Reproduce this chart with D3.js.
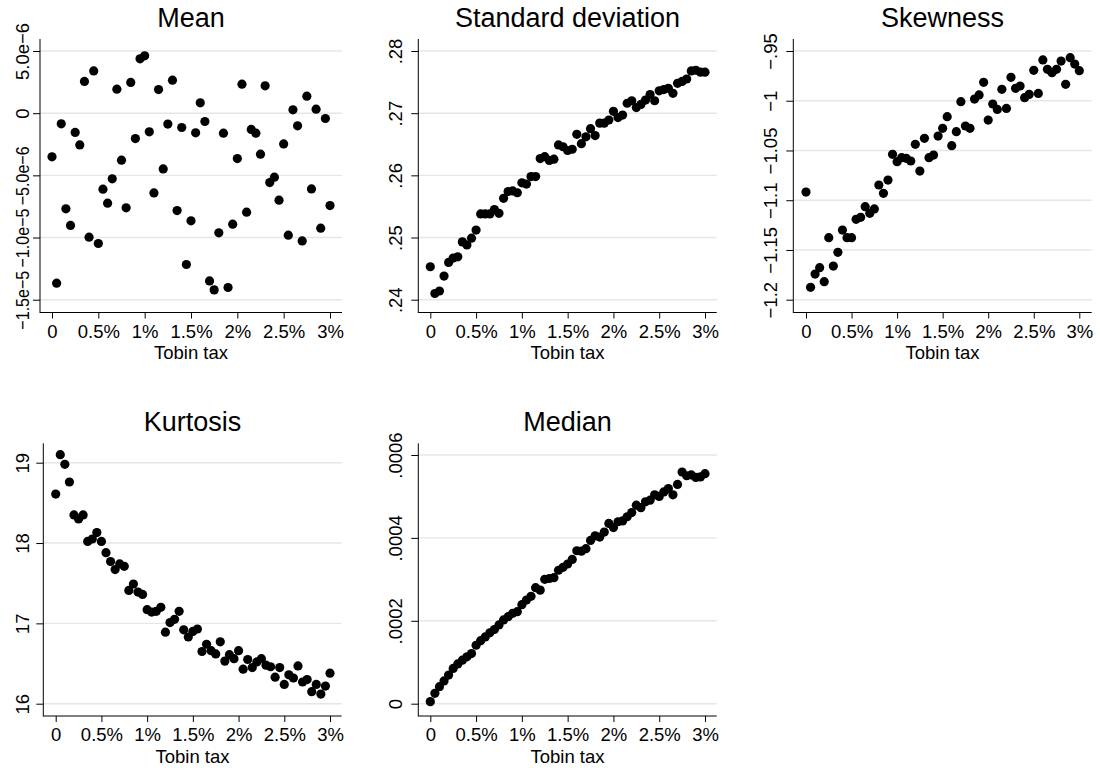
<!DOCTYPE html>
<html>
<head>
<meta charset="utf-8">
<script src="https://cdn.jsdelivr.net/npm/d3@7"></script>
<style>
  html, body { margin: 0; padding: 0; background: #fff; }
  svg { display: block; }
  text { font-family: "Liberation Sans", Arial, Helvetica, sans-serif; fill: #000; }
</style>
</head>
<body>
<svg id="chart" width="1100" height="771"></svg>
<script>
// ---------------- DATA ----------------
const tobinTax = [0, 0.05, 0.1, 0.15, 0.2, 0.25, 0.3, 0.35, 0.4, 0.45, 0.5, 0.55, 0.6, 0.65, 0.7, 0.75, 0.8, 0.85, 0.9, 0.95,
  1, 1.05, 1.1, 1.15, 1.2, 1.25, 1.3, 1.35, 1.4, 1.45, 1.5, 1.55, 1.6, 1.65, 1.7, 1.75, 1.8, 1.85, 1.9, 1.95,
  2, 2.05, 2.1, 2.15, 2.2, 2.25, 2.3, 2.35, 2.4, 2.45, 2.5, 2.55, 2.6, 2.65, 2.7, 2.75, 2.8, 2.85, 2.9, 2.95, 3];

const meanValues = [-3.51e-6, -13.67e-6, -0.86e-6, -7.69e-6, -9.03e-6, -1.55e-6, -2.55e-6, 2.55e-6, -9.97e-6, 3.40e-6,
  -10.48e-6, -6.11e-6, -7.24e-6, -5.28e-6, 1.93e-6, -3.78e-6, -7.61e-6, 2.47e-6, -2.04e-6, 4.37e-6,
  4.61e-6, -1.50e-6, -6.41e-6, 1.90e-6, -4.48e-6, -0.88e-6, 2.65e-6, -7.83e-6, -1.15e-6, -12.17e-6,
  -8.66e-6, -1.58e-6, 0.83e-6, -0.67e-6, -13.49e-6, -14.21e-6, -9.62e-6, -1.61e-6, -14.02e-6, -8.93e-6,
  -3.65e-6, 2.33e-6, -7.96e-6, -1.31e-6, -1.61e-6, -3.30e-6, 2.20e-6, -5.58e-6, -5.15e-6, -7.00e-6,
  -2.47e-6, -9.81e-6, 0.27e-6, -1.02e-6, -10.27e-6, 1.37e-6, -6.09e-6, 0.32e-6, -9.25e-6, -0.43e-6, -7.43e-6];

const sdValues = [0.2453, 0.2410, 0.2414, 0.2438, 0.2460, 0.2467, 0.2469, 0.2493, 0.2488, 0.2499,
  0.2512, 0.2538, 0.2538, 0.2538, 0.2545, 0.2539, 0.2563, 0.2574, 0.2575, 0.2572,
  0.2588, 0.2586, 0.2598, 0.2598, 0.2627, 0.2630, 0.2624, 0.2626, 0.2649, 0.2646,
  0.2640, 0.2642, 0.2666, 0.2651, 0.2662, 0.2675, 0.2664, 0.2684, 0.2684, 0.2689,
  0.2703, 0.2693, 0.2697, 0.2716, 0.2720, 0.2709, 0.2714, 0.2721, 0.2730, 0.2720,
  0.2736, 0.2738, 0.2740, 0.2732, 0.2748, 0.2751, 0.2755, 0.2768, 0.2769, 0.2766, 0.2766];

const skewValues = [-1.0918, -1.1876, -1.1742, -1.1678, -1.1819, -1.1377, -1.1662, -1.1524, -1.1300, -1.1377,
  -1.1377, -1.1192, -1.1172, -1.1065, -1.1132, -1.1088, -1.0847, -1.0931, -1.0797, -1.0539,
  -1.0613, -1.0572, -1.0579, -1.0606, -1.0438, -1.0707, -1.0378, -1.0572, -1.0546, -1.0355,
  -1.0277, -1.0160, -1.0452, -1.0311, -1.0009, -1.0254, -1.0277, -0.9983, -0.9942, -0.9815,
  -1.0194, -1.0033, -1.0087, -0.9885, -1.0077, -0.9765, -0.9875, -0.9852, -0.9969, -0.9936,
  -0.9694, -0.9926, -0.9590, -0.9684, -0.9718, -0.9684, -0.9601, -0.9835, -0.9567, -0.9631, -0.9698];

const kurtValues = [18.61, 19.10, 18.98, 18.76, 18.35, 18.30, 18.35, 18.02, 18.05, 18.13,
  18.02, 17.88, 17.77, 17.67, 17.74, 17.71, 17.41, 17.49, 17.39, 17.36,
  17.17, 17.14, 17.15, 17.20, 16.89, 17.01, 17.05, 17.15, 16.92, 16.83,
  16.90, 16.93, 16.65, 16.74, 16.66, 16.62, 16.77, 16.53, 16.61, 16.56,
  16.66, 16.43, 16.55, 16.45, 16.52, 16.56, 16.48, 16.46, 16.33, 16.45,
  16.24, 16.36, 16.32, 16.47, 16.27, 16.30, 16.15, 16.24, 16.12, 16.22, 16.38];

const medianValues = [0.05e-4, 0.25e-4, 0.41e-4, 0.55e-4, 0.69e-4, 0.85e-4, 0.96e-4, 1.05e-4, 1.13e-4, 1.21e-4,
  1.41e-4, 1.52e-4, 1.61e-4, 1.71e-4, 1.79e-4, 1.90e-4, 2.02e-4, 2.10e-4, 2.18e-4, 2.22e-4,
  2.39e-4, 2.50e-4, 2.59e-4, 2.80e-4, 2.74e-4, 3.00e-4, 3.02e-4, 3.04e-4, 3.22e-4, 3.29e-4,
  3.37e-4, 3.48e-4, 3.69e-4, 3.68e-4, 3.74e-4, 3.94e-4, 4.05e-4, 4.02e-4, 4.14e-4, 4.35e-4,
  4.25e-4, 4.39e-4, 4.41e-4, 4.51e-4, 4.61e-4, 4.79e-4, 4.73e-4, 4.87e-4, 4.91e-4, 5.04e-4,
  5.00e-4, 5.11e-4, 5.19e-4, 5.04e-4, 5.29e-4, 5.59e-4, 5.50e-4, 5.52e-4, 5.46e-4, 5.47e-4, 5.55e-4];

const xTickValues = [0, 0.5, 1, 1.5, 2, 2.5, 3];
const xTickLabels = ["0", "0.5%", "1%", "1.5%", "2%", "2.5%", "3%"];
const xAxisTitle = "Tobin tax";

const panelTitles = ["Mean", "Standard deviation", "Skewness", "Kurtosis", "Median"];

const meanTicks = [5e-6, 0, -5e-6, -1e-5, -1.5e-5];
const meanTickLabels = ["5.0e\u22126", "0", "\u22125.0e\u22126", "\u22121.0e\u22125", "\u22121.5e\u22125"];
const sdTicks = [0.28, 0.27, 0.26, 0.25, 0.24];
const sdTickLabels = [".28", ".27", ".26", ".25", ".24"];
const skewTicks = [-0.95, -1, -1.05, -1.1, -1.15, -1.2];
const skewTickLabels = ["\u2212.95", "\u22121", "\u22121.05", "\u22121.1", "\u22121.15", "\u22121.2"];
const kurtTicks = [19, 18, 17, 16];
const kurtTickLabels = ["19", "18", "17", "16"];
const medianTicks = [0.0006, 0.0004, 0.0002, 0];
const medianTickLabels = [".0006", ".0004", ".0002", "0"];

// ---------------- LAYOUT ----------------
const panels = [
  { title: panelTitles[0], values: meanValues, ticks: meanTicks, labels: meanTickLabels,
    left: 40, right: 342, top: 39, bottom: 312.5, xr: [52, 330], yd: [-1.5e-5, 5e-6], yr: [299.7, 51], labelX: 29, titleY: 27, maxLabel: 59 },
  { title: panelTitles[1], values: sdValues, ticks: sdTicks, labels: sdTickLabels,
    left: 418.3, right: 716.7, top: 39, bottom: 312.5, xr: [430.3, 705], yd: [0.24, 0.28], yr: [299.7, 51], labelX: 401.7, titleY: 27 },
  { title: panelTitles[2], values: skewValues, ticks: skewTicks, labels: skewTickLabels,
    left: 793.3, right: 1091.7, top: 39, bottom: 312.5, xr: [806, 1079.3], yd: [-1.2, -0.95], yr: [299.7, 51], labelX: 776.7, titleY: 27 },
  { title: panelTitles[3], values: kurtValues, ticks: kurtTicks, labels: kurtTickLabels,
    left: 43.3, right: 341.7, top: 443.3, bottom: 716, xr: [55.7, 330], yd: [16, 19], yr: [703.7, 462.7], labelX: 28.5, titleY: 430.7 },
  { title: panelTitles[4], values: medianValues, ticks: medianTicks, labels: medianTickLabels,
    left: 418.3, right: 716.7, top: 443.3, bottom: 716, xr: [430.3, 705], yd: [0, 0.0006], yr: [703.7, 455], labelX: 401.7, titleY: 430.7 }
];

const svg = d3.select("#chart");
const TICK_FONT = 18.5;

panels.forEach(p => {
  const x = d3.scaleLinear().domain([0, 3]).range(p.xr);
  const y = d3.scaleLinear().domain(p.yd).range(p.yr);
  const g = svg.append("g");

  // gridlines
  g.selectAll("line.grid").data(p.ticks).enter().append("line")
    .attr("x1", p.left).attr("x2", p.right)
    .attr("y1", d => y(d)).attr("y2", d => y(d))
    .attr("stroke", "#e6e6e6").attr("stroke-width", 1.4);

  // x axis
  const xAxis = d3.axisBottom(x).tickValues(xTickValues)
    .tickFormat((d, i) => xTickLabels[i]).tickSize(6).tickSizeOuter(0).tickPadding(7);
  const xg = g.append("g").attr("transform", `translate(0,${p.bottom})`).call(xAxis);
  xg.select(".domain").remove();
  xg.selectAll(".tick line").attr("stroke", "#000").attr("stroke-width", 1);
  xg.selectAll(".tick text").attr("font-size", TICK_FONT)
    .attr("font-family", '"Liberation Sans", Arial, sans-serif').attr("fill", "#000")
    .attr("dy", null).attr("y", 25).attr("dominant-baseline", "auto");

  // y axis
  const yAxis = d3.axisLeft(y).tickValues(p.ticks)
    .tickFormat((d, i) => p.labels[i]).tickSize(7).tickSizeOuter(0);
  const yg = g.append("g").attr("transform", `translate(${p.left},0)`).call(yAxis);
  yg.select(".domain").remove();
  yg.selectAll(".tick line").attr("stroke", "#000").attr("stroke-width", 1);
  yg.selectAll(".tick text")
    .attr("font-size", TICK_FONT)
    .attr("font-family", '"Liberation Sans", Arial, sans-serif').attr("fill", "#000")
    .attr("x", null).attr("dy", null)
    .attr("text-anchor", "middle")
    .attr("transform", `translate(${p.labelX - p.left},0) rotate(-90)`)
    .each(function() {
      if (p.maxLabel) {
        const len = this.getComputedTextLength();
        if (len > p.maxLabel) {
          d3.select(this).attr("textLength", p.maxLabel).attr("lengthAdjust", "spacingAndGlyphs");
        }
      }
    });

  // axis lines
  g.append("line").attr("x1", p.left).attr("x2", p.left).attr("y1", p.top).attr("y2", p.bottom + 0.5)
    .attr("stroke", "#000").attr("stroke-width", 1);
  g.append("line").attr("x1", p.left).attr("x2", p.right).attr("y1", p.bottom).attr("y2", p.bottom)
    .attr("stroke", "#000").attr("stroke-width", 1);

  // points
  g.selectAll("circle").data(p.values).enter().append("circle")
    .attr("cx", (d, i) => x(tobinTax[i]))
    .attr("cy", d => y(d))
    .attr("r", 4.6)
    .attr("fill", "#000");

  // title
  svg.append("text").attr("x", (p.left + p.right) / 2).attr("y", p.titleY)
    .attr("text-anchor", "middle").attr("font-size", 27).text(p.title);

  // x axis title
  svg.append("text").attr("x", (p.left + p.right) / 2).attr("y", p.bottom + 46.5)
    .attr("text-anchor", "middle").attr("font-size", TICK_FONT).text(xAxisTitle);
});
</script>
</body>
</html>
